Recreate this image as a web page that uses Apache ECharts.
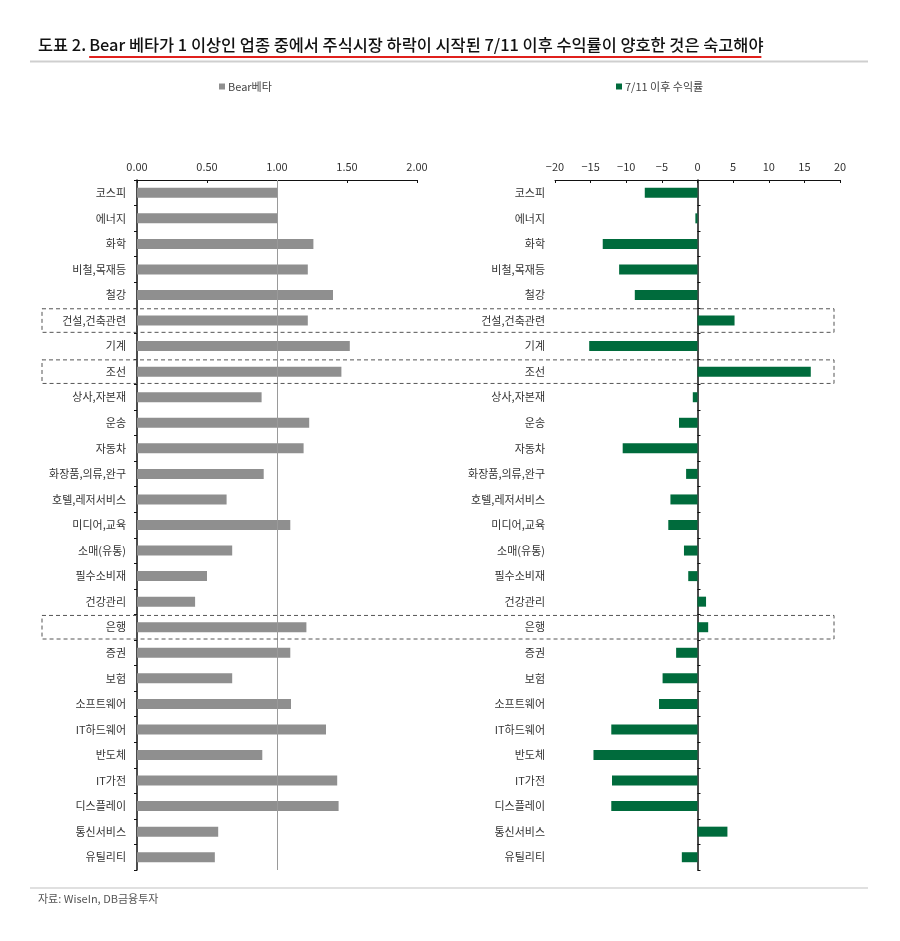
<!DOCTYPE html>
<html>
<head>
<meta charset="utf-8">
<script src="https://cdn.jsdelivr.net/npm/echarts@6/dist/echarts.min.js"></script>
<style>
html,body{margin:0;padding:0;background:#fff;}
#chart{width:900px;height:941px;}
</style>
</head>
<body>
<div id="chart"></div>
<script>
const categories = ['코스피','에너지','화학','비철,목재등','철강','건설,건축관련','기계','조선','상사,자본재','운송','자동차','화장품,의류,완구','호텔,레저서비스','미디어,교육','소매(유통)','필수소비재','건강관리','은행','증권','보험','소프트웨어','IT하드웨어','반도체','IT가전','디스플레이','통신서비스','유틸리티'];
const bearBeta = [1.00,1.00,1.26,1.22,1.40,1.22,1.52,1.46,0.89,1.23,1.19,0.905,0.64,1.095,0.68,0.50,0.415,1.21,1.095,0.68,1.10,1.35,0.895,1.43,1.44,0.58,0.556];
const returnSince711 = [-7.4,-0.3,-13.3,-11.0,-8.8,5.2,-15.2,15.9,-0.66,-2.6,-10.5,-1.6,-3.8,-4.1,-1.9,-1.3,1.2,1.5,-3.0,-4.9,-5.4,-12.1,-14.6,-12.0,-12.1,4.2,-2.2];
const betaTicks = [0, 0.5, 1, 1.5, 2];
const highlighted = ['건설,건축관련','조선','은행'];
const titlePrefix = '도표 2. ';
const titleMain = 'Bear 베타가 1 이상인 업종 중에서 주식시장 하락이 시작된 7/11 이후 수익률이 양호한 것은 숙고해야';
const sourceText = '자료: WiseIn, DB금융투자';
const seriesNames = ['Bear베타','7/11 이후 수익률'];

const FONT = "'Noto Sans CJK KR', 'Noto Sans', sans-serif";
const chart = echarts.init(document.getElementById('chart'));

// measure title to fit target width
const cv = document.createElement('canvas').getContext('2d');
function tw(txt, size){ cv.font = size + 'px ' + FONT; return cv.measureText(txt).width; }
const targetW = 724;
let tSize = 16;
const wFull = tw(titlePrefix + titleMain, tSize);
tSize = Math.max(12, Math.min(18, tSize * targetW / wFull));
const prefixW = tw(titlePrefix, tSize);
const mainW = tw(titleMain, tSize);
const titleX = 38;

const GT = 180, GH = 690;
const labelStyle = {color:'#333', fontSize:11, fontFamily:FONT};

const option = {
  animation:false,
  backgroundColor:'#fff',
  textStyle:{fontFamily:FONT},
  legend:[
    {data:[seriesNames[0]], left:214, top:76, icon:'rect', itemWidth:6, itemHeight:6, itemGap:4,
     textStyle:{color:'#444', fontSize:11, fontFamily:FONT, padding:[0,0,0,-2]}},
    {data:[seriesNames[1]], left:611, top:76, icon:'rect', itemWidth:6, itemHeight:6, itemGap:4,
     textStyle:{color:'#444', fontSize:11, fontFamily:FONT, padding:[0,0,0,-2]}}
  ],
  grid:[
    {left:137, width:280, top:GT, height:GH, containLabel:false},
    {left:555, width:285, top:GT, height:GH, containLabel:false}
  ],
  xAxis:[
    {gridIndex:0, type:'value', position:'top', min:0, max:2, interval:0.5,
     axisLine:{show:true, lineStyle:{color:'#111', width:1}},
     axisTick:{show:true, inside:true, length:3, lineStyle:{color:'#111'}},
     axisLabel:{...labelStyle, margin:8, formatter:v=>v.toFixed(2)},
     splitLine:{show:false}},
    {gridIndex:1, type:'value', position:'top', min:-20, max:20, interval:5,
     axisLine:{show:true, onZero:false, lineStyle:{color:'#111', width:1}},
     axisTick:{show:true, inside:true, length:3, lineStyle:{color:'#111'}},
     axisLabel:{...labelStyle, margin:8, formatter:v=> v<0 ? '\u2212'+Math.abs(v) : String(v)},
     splitLine:{show:false}}
  ],
  yAxis:[
    {gridIndex:0, type:'category', inverse:true, data:categories,
     axisLine:{show:true, onZero:false, lineStyle:{color:'#111', width:1.5}},
     axisTick:{show:true, length:3, lineStyle:{color:'#111'}},
     axisLabel:{...labelStyle, margin:11}},
    {gridIndex:1, type:'category', inverse:true, data:categories, position:'left',
     axisLine:{show:false, onZero:false},
     axisTick:{show:false},
     axisLabel:{...labelStyle, margin:10}},
    {gridIndex:1, type:'category', inverse:true, data:categories,
     axisLine:{show:true, onZero:true, lineStyle:{color:'#111', width:1.5}},
     axisTick:{show:true, length:3, lineStyle:{color:'#111'}},
     axisLabel:{show:false}}
  ],
  series:[
    {type:'line', xAxisIndex:0, yAxisIndex:0, data:[], z:1, silent:true,
     markLine:{symbol:'none', silent:true, label:{show:false},
       lineStyle:{color:'#9a9a9a', width:1, type:'solid'}, data:[{xAxis:1}]}},
    {name:seriesNames[0], type:'bar', xAxisIndex:0, yAxisIndex:0, data:bearBeta, barWidth:10, z:3,
     itemStyle:{color:'#8f8f8f'}},
    {name:seriesNames[1], type:'bar', xAxisIndex:1, yAxisIndex:1, data:returnSince711, barWidth:10, z:3,
     itemStyle:{color:'#006b3c'}}
  ],
  graphic:[
    {type:'text', id:'t1', left:titleX, top:37, style:{text:titlePrefix, font:'500 '+tSize.toFixed(2)+'px '+FONT, fill:'#111'}},
    {type:'text', id:'t2', left:titleX+prefixW, top:37, style:{text:titleMain, font:'500 '+tSize.toFixed(2)+'px '+FONT, fill:'#111'}},
    {type:'line', id:'ul', shape:{x1:titleX+prefixW, y1:57, x2:titleX+prefixW+mainW, y2:57}, style:{stroke:'#e0201c', lineWidth:2}},
    {type:'line', id:'topRule', shape:{x1:30, y1:61.5, x2:868, y2:61.5}, style:{stroke:'#cfcfcf', lineWidth:2}},
    {type:'line', id:'botRule', shape:{x1:30, y1:888, x2:868, y2:888}, style:{stroke:'#d6d6d6', lineWidth:1.5}},
    {type:'text', id:'src', left:38, top:893, style:{text:sourceText, font:'11px '+FONT, fill:'#555'}}
  ]
};
chart.setOption(option);

// dashed highlight boxes located through the category scale
const band = GH / categories.length;
const boxes = highlighted.map((c,i)=>{
  const yc = chart.convertToPixel({yAxisIndex:0}, c);
  return {type:'rect', id:'box'+i, z:10, shape:{x:42, y:yc-band/2+1, width:792, height:band-2},
    style:{fill:'none', stroke:'#555', lineWidth:1, lineDash:[4,3]}};
});
chart.setOption({graphic:boxes});
</script>
</body>
</html>
